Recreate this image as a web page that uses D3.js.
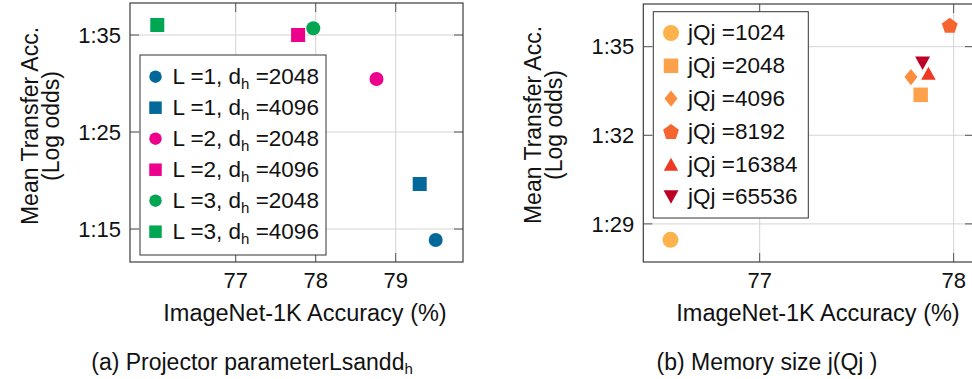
<!DOCTYPE html>
<html lang="en">
<head>
<meta charset="UTF-8">
<title>Projector parameters and memory size</title>
<script src="https://d3js.org/d3.v7.min.js"></script>
<style>
  body { margin: 0; background: #fff; }
  svg { display: block; font-family: "Liberation Sans", Arial, sans-serif; }
  text { white-space: pre; fill: #111; }
</style>
</head>
<body>
<div id="chart"></div>
<script>
// (a) projector parameters L and d_h
const projL = [1, 1, 2, 2, 3, 3];
const projDh = [2048, 4096, 2048, 4096, 2048, 4096];
const projAcc = [79.50, 79.30, 78.76, 77.78, 77.97, 76.02];
const projTransfer = [1.1387, 1.1964, 1.3046, 1.350, 1.357, 1.3603];
const projXTicks = [77, 78, 79];
const projYTicks = [1.15, 1.25, 1.35];

// (b) memory size |Q|
const memSizes = [1024, 2048, 4096, 8192, 16384, 65536];
const memAcc = [76.54, 77.83, 77.78, 77.98, 77.87, 77.84];
const memTransfer = [1.2846, 1.3337, 1.3397, 1.3573, 1.3410, 1.3444];
const memXTicks = [77, 78];
const memYTicks = [1.29, 1.32, 1.35];

// styles
const projColors = ["#03689a", "#03689a", "#ec008c", "#ec008c", "#00a651", "#00a651"];
const projShapes = ["circle", "square", "circle", "square", "circle", "square"];
const memColors = ["#feb24c", "#fda14a", "#fc8d3d", "#f5652f", "#ec3a24", "#bd0026"];
const memShapes = ["circle", "square", "diamond", "pentagon", "triUp", "triDown"];

const width = 972, height = 379;
const svg = d3.select("#chart").append("svg")
    .attr("width", width).attr("height", height);

// marker paths centred on 0,0, s = nominal width
function shapePath(kind, s) {
    const h = s / 2;
    if (kind === "circle") return `M${h},0A${h},${h} 0 1,1 ${-h},0A${h},${h} 0 1,1 ${h},0Z`;
    if (kind === "square") return `M${-h},${-h}H${h}V${h}H${-h}Z`;
    if (kind === "diamond") { const v = h * 1.25; return `M0,${-v}L${h},0L0,${v}L${-h},0Z`; }
    if (kind === "pentagon") {
        const r = h * 1.04;
        const pts = d3.range(5).map(i => {
            const a = -Math.PI / 2 + i * 2 * Math.PI / 5;
            return [r * Math.cos(a), r * Math.sin(a) + r * 0.1];
        });
        return "M" + pts.map(p => p.join(",")).join("L") + "Z";
    }
    const t = h * 0.9;
    if (kind === "triUp") return `M0,${-t}L${h},${t}L${-h},${t}Z`;
    if (kind === "triDown") return `M0,${t}L${h},${-t}L${-h},${-t}Z`;
}

function drawPanel(p) {
    const g = svg.append("g");
    const x = d3.scaleLinear().domain(p.xDomain).range([p.left, p.right]);
    const y = d3.scaleLinear().domain(p.yDomain).range([p.bottom, p.top]);
    const tick = 9, frame = "#555";

    // grid
    g.selectAll(".gx").data(p.xTicks).join("line")
        .attr("x1", d => x(d)).attr("x2", d => x(d))
        .attr("y1", p.top).attr("y2", p.bottom)
        .attr("stroke", "#d4d4d4").attr("stroke-width", 1);
    g.selectAll(".gy").data(p.yTicks).join("line")
        .attr("x1", p.left).attr("x2", p.right)
        .attr("y1", d => y(d)).attr("y2", d => y(d))
        .attr("stroke", "#d4d4d4").attr("stroke-width", 1);

    // inward ticks on all sides
    const tg = g.append("g").attr("stroke", frame).attr("stroke-width", 1);
    p.xTicks.forEach(d => {
        tg.append("line").attr("x1", x(d)).attr("x2", x(d)).attr("y1", p.bottom).attr("y2", p.bottom - tick);
        tg.append("line").attr("x1", x(d)).attr("x2", x(d)).attr("y1", p.top).attr("y2", p.top + tick);
    });
    p.yTicks.forEach(d => {
        tg.append("line").attr("y1", y(d)).attr("y2", y(d)).attr("x1", p.left).attr("x2", p.left + tick);
        tg.append("line").attr("y1", y(d)).attr("y2", y(d)).attr("x1", p.right).attr("x2", p.right - tick);
    });

    // frame
    g.append("rect")
        .attr("x", p.left).attr("y", p.top)
        .attr("width", p.right - p.left).attr("height", p.bottom - p.top)
        .attr("fill", "none").attr("stroke", "#3c3c3c").attr("stroke-width", 1.2);

    // tick labels
    g.selectAll(".xl").data(p.xTicks).join("text")
        .attr("x", d => x(d)).attr("y", p.bottom + 26)
        .attr("text-anchor", "middle").attr("font-size", 22)
        .text(d => d);
    g.selectAll(".yl").data(p.yTicks).join("text")
        .attr("x", p.left - 9).attr("y", d => y(d)).attr("dy", "0.35em")
        .attr("text-anchor", "end").attr("font-size", 22)
        .text(d => d.toFixed(2).replace(".", ":"));

    // axis titles
    g.append("text")
        .attr("x", p.xTitleX).attr("y", p.bottom + 59)
        .attr("text-anchor", "middle").attr("font-size", 23.5)
        .text("ImageNet-1K Accuracy (%)");
    const yt = g.append("text")
        .attr("transform", `translate(${p.yTitleX},${p.yTitleY}) rotate(-90)`)
        .attr("text-anchor", "middle").attr("font-size", 23);
    yt.append("tspan").attr("x", 0).attr("y", 0).text("Mean Transfer Acc.");
    yt.append("tspan").attr("x", 0).attr("y", 20.5).text("(Log odds)");

    // points
    g.selectAll(".pt").data(p.xs).join("path")
        .attr("transform", (d, i) => `translate(${x(d)},${y(p.ys[i])})`)
        .attr("d", (d, i) => shapePath(p.shapes[i], p.sizes[i]))
        .attr("fill", (d, i) => p.colors[i]);

    // legend
    const L = p.legend;
    g.append("rect")
        .attr("x", L.x).attr("y", L.y).attr("width", L.w).attr("height", L.h)
        .attr("fill", "#fff").attr("stroke", "#333").attr("stroke-width", 1);
    p.colors.forEach((c, i) => {
        const cy = L.first + i * L.step;
        g.append("path")
            .attr("transform", `translate(${L.mx},${cy})`)
            .attr("d", shapePath(p.shapes[i], p.legSizes[i]))
            .attr("fill", c);
        const t = g.append("text")
            .attr("x", L.tx).attr("y", cy).attr("dy", "0.33em")
            .attr("font-size", 22.5);
        p.legendText(t, i);
    });

    // caption
    const cap = g.append("text")
        .attr("x", p.capX).attr("y", 370)
        .attr("text-anchor", "middle").attr("font-size", 23);
    p.caption(cap);
}

drawPanel({
    left: 130, right: 463, top: 3, bottom: 262,
    xDomain: [75.679, 79.841], yDomain: [1.116, 1.383],
    xTicks: projXTicks, yTicks: projYTicks,
    xs: projAcc, ys: projTransfer,
    colors: projColors, shapes: projShapes,
    sizes: [14, 14, 14, 14, 14, 14], legSizes: [12.5, 12.5, 12.5, 12.5, 12.5, 12.5],
    xTitleX: 305, yTitleX: 38, yTitleY: 126,
    legend: { x: 140, y: 55, w: 186, h: 200, first: 76.7, step: 31, mx: 155.5, tx: 172.5 },
    legendText: (t, i) => {
        t.append("tspan").text(`L =${projL[i]}, d`);
        t.append("tspan").attr("font-size", 15).attr("dy", 5).text("h");
        t.append("tspan").attr("dy", -5).text(` =${projDh[i]}`);
    },
    capX: 252,
    caption: t => {
        t.append("tspan").text("(a) Projector parameterLsandd");
        t.append("tspan").attr("font-size", 15).attr("dy", 4).text("h");
    }
});

drawPanel({
    left: 643.3, right: 974, top: 4, bottom: 262,
    xDomain: [76.400, 78.105], yDomain: [1.2771, 1.36445],
    xTicks: memXTicks, yTicks: memYTicks,
    xs: memAcc, ys: memTransfer,
    colors: memColors, shapes: memShapes,
    sizes: [16, 14.5, 13, 16, 14.5, 15], legSizes: [16, 14.5, 13, 16, 14.5, 15],
    xTitleX: 818, yTitleX: 541, yTitleY: 125,
    legend: { x: 653.3, y: 11.7, w: 155, h: 206.3, first: 33, step: 32.8, mx: 671, tx: 688 },
    legendText: (t, i) => { t.text(`jQj =${memSizes[i]}`); },
    capX: 767,
    caption: t => { t.text("(b) Memory size j(Qj )"); }
});
</script>
</body>
</html>
